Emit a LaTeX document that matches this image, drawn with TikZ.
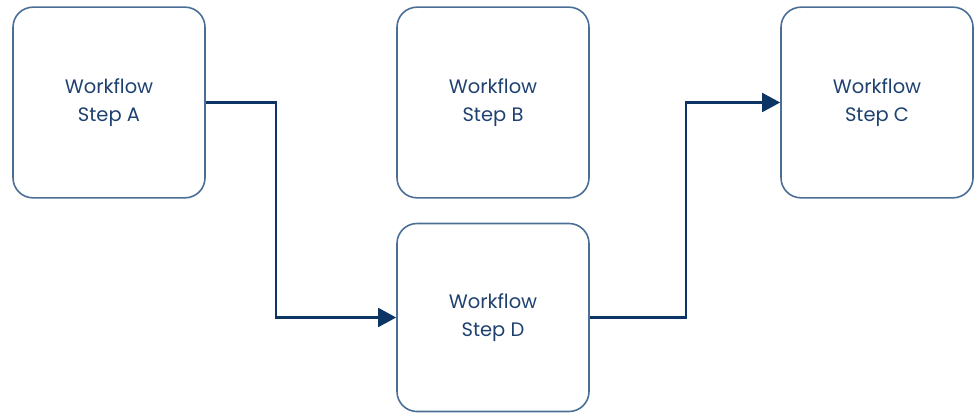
\documentclass[tikz,border=0pt]{standalone}
\usepackage{fontspec}
\setmainfont{Poppins}
\usepackage{tikz}
\usetikzlibrary{arrows.meta}
\definecolor{boxline}{HTML}{4B6E96}
\definecolor{boxtext}{HTML}{1F4170}
\definecolor{flowline}{HTML}{0C3464}

\begin{document}
\begin{tikzpicture}[x=0.75pt,y=-0.75pt,
  every node/.style={font=\fontsize{14.6}{20.5}\selectfont},
  stepbox/.style={draw=boxline,line width=1.2pt,rounded corners=15pt,
    minimum width=144pt,minimum height=143pt,align=center,text=boxtext,
    inner sep=0pt},
  flow/.style={draw=flowline,line width=2.2pt,
    -{Triangle[length=13.5pt,width=14pt]}}]
\useasboundingbox (0,0) rectangle (977,414);
\node[stepbox] (stepA) at (109,102.5) {Workflow\\Step A};
\node[stepbox] (stepB) at (493,102.5) {Workflow\\Step B};
\node[stepbox] (stepC) at (877,102.5) {Workflow\\Step C};
\node[stepbox,minimum height=141pt] (stepD) at (493,317.5) {Workflow\\Step D};
\coordinate (bendA) at (276,210);
\coordinate (bendD) at (686,210);
\draw[flow] (stepA.east) -| (bendA) |- (stepD.west);
\draw[flow] (stepD.east) -| (bendD) |- (stepC.west);
\end{tikzpicture}
\end{document}
